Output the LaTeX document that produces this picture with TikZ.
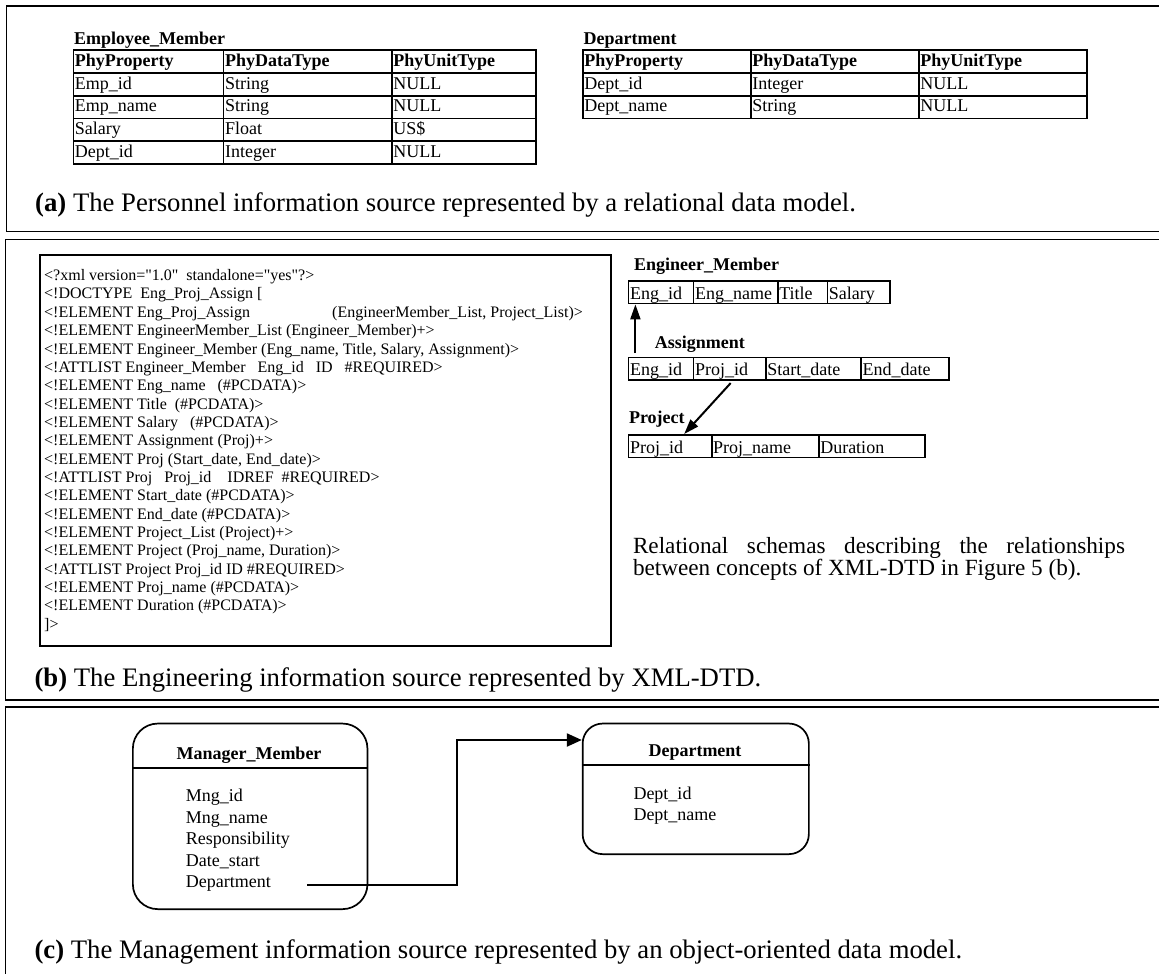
\documentclass[tikz,border=0pt]{standalone}
\usepackage{fontspec}
\setmainfont{Liberation Serif}
\usetikzlibrary{arrows.meta,calc}

\begin{document}
\begin{tikzpicture}[x=1pt, y=-1pt,
  panel/.style={draw, line width=1.5pt},
  cellA/.style={draw, line width=1.7pt, anchor=north west, inner xsep=1.5pt, inner ysep=0pt,
    align=left, text width=#1, text height=16.2pt, text depth=6.55pt, font=\fontsize{18}{21}\selectfont},
  cellB/.style={draw, line width=1.7pt, anchor=north west, inner xsep=1.5pt, inner ysep=0pt,
    align=left, text width=#1, text height=18.4pt, text depth=4.3pt, font=\fontsize{18}{21}\selectfont},
  tname/.style={anchor=base west, inner sep=0pt, font=\bfseries\fontsize{18}{21}\selectfont},
  xmlline/.style={anchor=base west, inner sep=0pt, font=\fontsize{16}{18}\selectfont},
  capt/.style={anchor=base west, inner sep=0pt, font=\fontsize{26.7}{30}\selectfont},
  item/.style={anchor=base west, inner sep=0pt, font=\fontsize{18}{21}\selectfont},
  note/.style={anchor=base west, inner sep=0pt, font=\fontsize{23.2}{26}\selectfont},
  objbox/.style={draw, line width=1.7pt, anchor=north west, inner sep=0pt},
  arrb/.style={line width=2pt, -{Triangle[length=15pt, width=10pt]}},
  arrc/.style={line width=2.2pt, -{Triangle[length=15pt, width=13pt]}},
]
\useasboundingbox (0,0) rectangle (1159,974);
\fill[white] (0,0) rectangle (1159,974);

% ---------- panel frames (open on the right) ----------
\draw[panel] (1162,6) -- (6.7,6) -- (6.7,231.5) -- (1162,231.5);
\draw[panel] (1162,239.3) -- (5.7,239.3) -- (5.7,700) -- (1162,700);
\draw[panel] (1162,707) -- (5.7,707) -- (5.7,978);

% ---------- (a) relational tables ----------
\node[tname] (empname) at (74,45) {Employee\_Member};
\foreach \p/\q/\u [count=\i from 0] in {
    {\textbf{PhyProperty}}/{\textbf{PhyDataType}}/{\textbf{PhyUnitType}},
    {Emp\_id}/String/NULL,
    {Emp\_name}/String/NULL,
    Salary/Float/{US\$},
    {Dept\_id}/Integer/NULL}{
  \node[cellA=147.2pt] (emp-\i-1) at (72.5,{49.3+22.75*\i}) {\p};
  \node[cellA=165.3pt] (emp-\i-2) at (222.7,{49.3+22.75*\i}) {\q};
  \node[cellA=141.3pt] (emp-\i-3) at (391.0,{49.3+22.75*\i}) {\u};
}

\node[tname] (depname) at (583.4,45) {Department};
\foreach \p/\q/\u [count=\i from 0] in {
    {\textbf{PhyProperty}}/{\textbf{PhyDataType}}/{\textbf{PhyUnitType}},
    {Dept\_id}/Integer/NULL,
    {Dept\_name}/String/NULL}{
  \node[cellA=165pt] (dep-\i-1) at (582,{49.3+22.75*\i}) {\p};
  \node[cellA=165pt] (dep-\i-2) at (750,{49.3+22.75*\i}) {\q};
  \node[cellA=165pt] (dep-\i-3) at (918,{49.3+22.75*\i}) {\u};
}

\node[capt] (capa) at (35,211.7) {\textbf{(a)} The Personnel information source represented by a relational data model.};

% ---------- (b) XML-DTD listing ----------
\node[draw, line width=1.7pt, anchor=north west, minimum width=571pt, minimum height=391pt, inner sep=0pt] (xmlbox) at (39,254) {};
\node[xmlline] (x1)  at (44,280.60) {<?xml version=\textquotedbl1.0\textquotedbl~~standalone=\textquotedbl yes\textquotedbl?>};
\node[xmlline] (x2)  at (44,298.95) {<!DOCTYPE~~Eng\_Proj\_Assign [};
\node[xmlline] (x3)  at (44,317.30) {<!ELEMENT Eng\_Proj\_Assign};
\node[xmlline] (x3b) at (332,317.30) {(EngineerMember\_List, Project\_List)>};
\node[xmlline] (x4)  at (44,335.65) {<!ELEMENT EngineerMember\_List (Engineer\_Member)+>};
\node[xmlline] (x5)  at (44,354.00) {<!ELEMENT Engineer\_Member (Eng\_name, Title, Salary, Assignment)>};
\node[xmlline] (x6)  at (44,372.35) {<!ATTLIST Engineer\_Member~~~Eng\_id~~~ID~~~\#REQUIRED>};
\node[xmlline] (x7)  at (44,390.70) {<!ELEMENT Eng\_name~~~(\#PCDATA)>};
\node[xmlline] (x8)  at (44,409.05) {<!ELEMENT Title~~(\#PCDATA)>};
\node[xmlline] (x9)  at (44,427.40) {<!ELEMENT Salary~~~(\#PCDATA)>};
\node[xmlline] (x10) at (44,445.75) {<!ELEMENT Assignment (Proj)+>};
\node[xmlline] (x11) at (44,464.10) {<!ELEMENT Proj (Start\_date, End\_date)>};
\node[xmlline] (x12) at (44,482.45) {<!ATTLIST Proj~~~Proj\_id~~~~IDREF~~\#REQUIRED>};
\node[xmlline] (x13) at (44,500.80) {<!ELEMENT Start\_date (\#PCDATA)>};
\node[xmlline] (x14) at (44,519.15) {<!ELEMENT End\_date (\#PCDATA)>};
\node[xmlline] (x15) at (44,537.50) {<!ELEMENT Project\_List (Project)+>};
\node[xmlline] (x16) at (44,555.85) {<!ELEMENT Project (Proj\_name, Duration)>};
\node[xmlline] (x17) at (44,574.20) {<!ATTLIST Project Proj\_id ID \#REQUIRED>};
\node[xmlline] (x18) at (44,592.55) {<!ELEMENT Proj\_name (\#PCDATA)>};
\node[xmlline] (x19) at (44,610.90) {<!ELEMENT Duration (\#PCDATA)>};
\node[xmlline] (x20) at (44,629.25) {]>};

% ---------- (b) relational schemas ----------
\node[tname] (engname) at (634,270.7) {Engineer\_Member};
\node[cellB=62pt]   (em-1) at (627.7,280) {Eng\_id};
\node[cellB=81.2pt] (em-2) at (692.7,280) {Eng\_name};
\node[cellB=46.7pt] (em-3) at (776.9,280) {Title};
\node[cellB=59.7pt] (em-4) at (826.6,280) {Salary};

\node[tname] (asgname) at (654.6,348.3) {Assignment};
\node[cellB=62pt]   (as-1) at (627.7,356.7) {Eng\_id};
\node[cellB=69.2pt] (as-2) at (692.7,356.7) {Proj\_id};
\node[cellB=92.4pt] (as-3) at (764.9,356.7) {Start\_date};
\node[cellB=84.8pt] (as-4) at (860.3,356.7) {End\_date};

\node[tname] (prjname) at (628.8,423.3) {Project};
\node[cellB=80.1pt]  (pr-1) at (627.7,434) {Proj\_id};
\node[cellB=104.1pt] (pr-2) at (710.8,434) {Proj\_name};
\node[cellB=102.9pt] (pr-3) at (817.9,434) {Duration};

\coordinate (upstart) at (635.4,353);
\draw[arrb] (upstart) -- (upstart |- em-1.south);
\coordinate (dstart) at ($(as-2.south)+(1,2)$);
\coordinate (dend) at ($(pr-1.north east)+(-28.3,0)$);
\draw[arrb] (dstart) -- (dend);

\node[note] (note1) at (632.8,553.3) {\makebox[492pt][s]{Relational schemas describing the relationships}};
\node[note] (note2) at (632.8,575.0) {between concepts of XML-DTD in Figure 5 (b).};

\node[capt] (capb) at (34.4,686) {\textbf{(b)} The Engineering information source represented by XML-DTD.};

% ---------- (c) object-oriented classes ----------
\node[objbox, rounded corners=25pt, minimum width=234.6pt, minimum height=185.6pt] (mgr) at (132,722.7) {};
\coordinate (mgrsep) at (0,767.7);
\draw[line width=1.7pt] (mgr.west |- mgrsep) -- (mgr.east |- mgrsep);
\node[tname, anchor=base] (mgrtitle) at (249,759.3) {Manager\_Member};
\node[item] (mi1) at (185.6,801.7) {Mng\_id};
\node[item] (mi2) at (185.6,823.2) {Mng\_name};
\node[item] (mi3) at (185.6,844.7) {Responsibility};
\node[item] (mi4) at (185.6,866.2) {Date\_start};
\node[item] (mi5) at (185.6,887.7) {Department};

\node[objbox, rounded corners=20pt, minimum width=226.2pt, minimum height=130.6pt] (dept) at (581.8,722.7) {};
\coordinate (deptsep) at (0,765);
\draw[line width=1.7pt] (dept.west |- deptsep) -- (dept.east |- deptsep);
\node[tname, anchor=base] (depttitle) at (695,756.7) {Department};
\node[item] (di1) at (633.3,799.3) {Dept\_id};
\node[item] (di2) at (633.3,820.8) {Dept\_name};

\coordinate (mstart) at (307.3,885);
\coordinate (mbend) at (457.3,740);
\draw[arrc] (mstart) -| (mbend) -- (mbend -| dept.west);

\node[capt] (capc) at (34.4,958.3) {\textbf{(c)} The Management information source represented by an object-oriented data model.};
\end{tikzpicture}
\end{document}
